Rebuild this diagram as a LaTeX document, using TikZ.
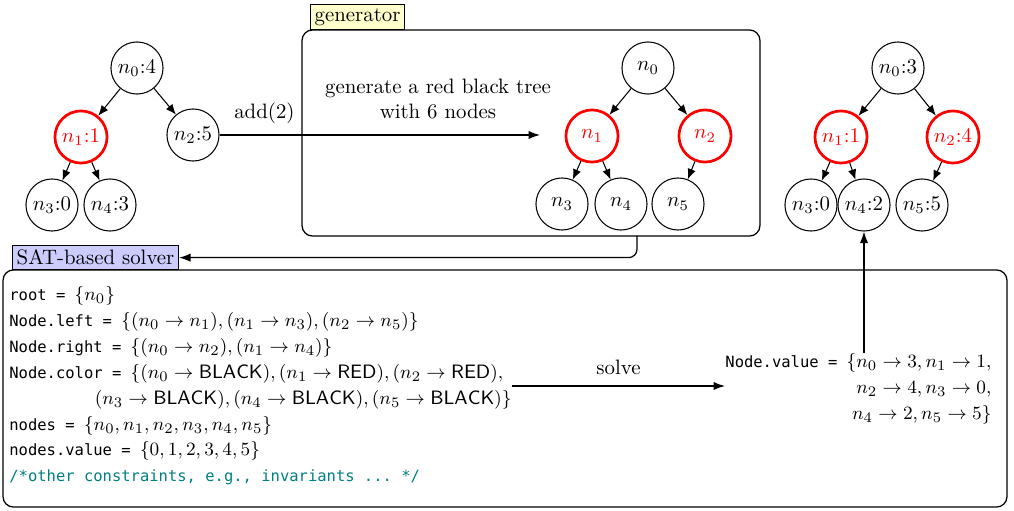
\documentclass[tikz,border=0pt]{standalone}
\usepackage{fontspec}
\setmonofont[Scale=0.8]{DejaVu Sans Mono}
\usetikzlibrary{arrows.meta}
\definecolor{genfill}{RGB}{255,255,204}
\definecolor{satfill}{RGB}{204,204,255}
\definecolor{cmtcol}{RGB}{0,128,128}
\begin{document}
\begin{tikzpicture}[x=0.48pt,y=-0.48pt,
  tn/.style={circle,draw,line width=0.5pt,minimum size=25pt,inner sep=0pt},
  rn/.style={tn,draw=red,text=red,line width=1.3pt},
  edge/.style={-{Latex[length=5pt,width=4pt]},line width=0.5pt},
  conn/.style={-{Latex[length=5.5pt,width=4pt]},line width=0.6pt},
  bigbox/.style={draw,rounded corners=5pt,line width=0.6pt,inner sep=0pt},
  tag/.style={draw,line width=0.5pt,inner sep=2pt,anchor=south west},
  codefont/.style={font=\fontsize{9.3pt}{12.4pt}\selectfont}]
\useasboundingbox (0,0) rectangle (1014,511);

% left tree
\node[tn] (L0) at (137,68) {$n_0{:}4$};
\node[rn] (L1) at (81,137) {$n_1{:}1$};
\node[tn] (L2) at (193,135) {$n_2{:}5$};
\node[tn] (L3) at (52,205) {$n_3{:}0$};
\node[tn] (L4) at (110,205) {$n_4{:}3$};
\draw[edge] (L0) -- (L1);
\draw[edge] (L0) -- (L2);
\draw[edge] (L1) -- (L3);
\draw[edge] (L1) -- (L4);

% generator
\node[bigbox,minimum width=219.8pt,minimum height=98.9pt] (gen) at (531,133) {};
\node[tag,fill=genfill] (gentag) at (310,30) {generator};
\node (gentext) at (438,99) [align=center] {generate a red black tree\\with 6 nodes};
\node[tn] (G0) at (648,68) {$n_0$};
\node[rn] (G1) at (592,136) {$n_1$};
\node[rn] (G2) at (705,136) {$n_2$};
\node[tn] (G3) at (562,204) {$n_3$};
\node[tn] (G4) at (621,204) {$n_4$};
\node[tn] (G5) at (678,204) {$n_5$};
\draw[edge] (G0) -- (G1);
\draw[edge] (G0) -- (G2);
\draw[edge] (G1) -- (G3);
\draw[edge] (G1) -- (G4);
\draw[edge] (G2) -- (G5);

\coordinate (addend) at (540,135);
\draw[conn] (L2.east) -- node[above=2pt,pos=0.14] (addlbl) {add(2)} (addend);

% right tree
\node[tn] (R0) at (898,68) {$n_0{:}3$};
\node[rn] (R1) at (841,137) {$n_1{:}1$};
\node[rn] (R2) at (953,137) {$n_2{:}4$};
\node[tn] (R3) at (811,205) {$n_3{:}0$};
\node[tn] (R4) at (864,205) {$n_4{:}2$};
\node[tn] (R5) at (922,205) {$n_5{:}5$};
\draw[edge] (R0) -- (R1);
\draw[edge] (R0) -- (R2);
\draw[edge] (R1) -- (R3);
\draw[edge] (R1) -- (R4);
\draw[edge] (R2) -- (R5);

% solver
\node[bigbox,minimum width=481.9pt,minimum height=113.8pt] (solver) at (505,388.5) {};
\node[tag,fill=satfill] (sattag) at (12,270) {SAT-based solver};
\coordinate (gtap) at (637,236);
\draw[conn,rounded corners=4pt] (gtap) |- (sattag.east);

\node[codefont,align=left,anchor=west,inner sep=0pt] (code) at (9,386) {%
\texttt{root = }$\{n_0\}$\\
\texttt{Node.left = }$\{(n_0\rightarrow n_1),(n_1\rightarrow n_3),(n_2\rightarrow n_5)\}$\\
\texttt{Node.right = }$\{(n_0\rightarrow n_2),(n_1\rightarrow n_4)\}$\\
\texttt{Node.color = }$\{(n_0\rightarrow\mathsf{BLACK}),(n_1\rightarrow\mathsf{RED}),(n_2\rightarrow\mathsf{RED}),$\\
\hspace*{41pt}$(n_3\rightarrow\mathsf{BLACK}),(n_4\rightarrow\mathsf{BLACK}),(n_5\rightarrow\mathsf{BLACK})\}$\\
\texttt{nodes = }$\{n_0,n_1,n_2,n_3,n_4,n_5\}$\\
\texttt{nodes.value = }$\{0,1,2,3,4,5\}$\\
\textcolor{cmtcol}{\texttt{/*other constraints, e.g., invariants ... */}}};

\node[codefont,align=right,anchor=west,inner sep=0pt] (value) at (725,389) {%
\texttt{Node.value = }$\{n_0\rightarrow 3,n_1\rightarrow 1,$\\
$n_2\rightarrow 4,n_3\rightarrow 0,$\\
$n_4\rightarrow 2,n_5\rightarrow 5\}$};

\draw[conn] (code.east) -- node[above=2pt] (solvelbl) {solve} (code.east -| value.west);
\draw[conn] (value.north -| R4.south) -- (R4.south);
\end{tikzpicture}
\end{document}
